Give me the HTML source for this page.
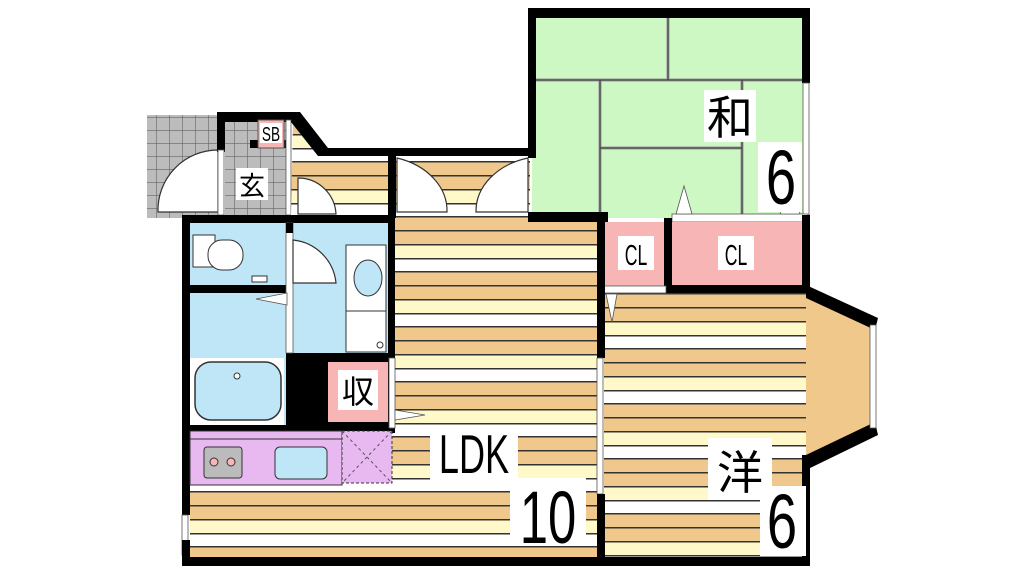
<!DOCTYPE html>
<html><head><meta charset="utf-8"><style>
html,body{margin:0;padding:0;background:#fff;width:1024px;height:576px;overflow:hidden}
text{font-family:"Liberation Sans","Noto Sans CJK JP",sans-serif}
</style></head><body>
<svg width="1024" height="576" viewBox="0 0 1024 576" xmlns="http://www.w3.org/2000/svg">
<defs>
<pattern id="wood" x="0" y="161" width="40" height="55" patternUnits="userSpaceOnUse">
<rect width="40" height="14" fill="#f0c88c"/><rect y="14" width="40" height="14" fill="#f0c88c"/>
<rect y="28" width="40" height="14" fill="#fff8c8"/><rect y="42" width="40" height="13" fill="#fff"/>
<rect y="0" width="40" height="1.5" fill="#333"/><rect y="14" width="40" height="1.5" fill="#333"/>
<rect y="28" width="40" height="1.5" fill="#333"/><rect y="42" width="40" height="1.5" fill="#333"/>
</pattern>
<pattern id="wood2" x="0" y="293" width="40" height="55" patternUnits="userSpaceOnUse">
<rect width="40" height="14" fill="#f0c88c"/><rect y="14" width="40" height="14" fill="#f0c88c"/>
<rect y="28" width="40" height="14" fill="#fff8c8"/><rect y="42" width="40" height="13" fill="#fff"/>
<rect y="0" width="40" height="1.5" fill="#333"/><rect y="14" width="40" height="1.5" fill="#333"/>
<rect y="28" width="40" height="1.5" fill="#333"/><rect y="42" width="40" height="1.5" fill="#333"/>
</pattern>
<pattern id="tile" x="0" y="0" width="13" height="13" patternUnits="userSpaceOnUse">
<rect width="13" height="13" fill="#bcbcbc"/><path d="M0 0H13M0 0V13" stroke="#666" stroke-width="1.2"/>
</pattern>
</defs>
<!-- LDK -->
<rect x="190" y="215" width="410" height="343" fill="url(#wood)"/>
<rect x="395" y="156" width="135" height="62" fill="url(#wood)"/>
<!-- tiles -->
<rect x="147" y="115" width="72" height="103" fill="url(#tile)"/>
<path d="M218 150 A60 60 0 0 0 158 212 L218 212Z" fill="#fff" stroke="#333" stroke-width="1.2"/>
<rect x="225" y="122" width="62" height="93" fill="url(#tile)"/>
<rect x="217" y="112" width="8" height="40" fill="#000"/>
<rect x="217" y="112" width="76" height="10" fill="#000"/>
<rect x="218" y="150" width="6" height="65" fill="#fff" stroke="#555" stroke-width="0.8"/>
<rect x="250" y="140" width="40" height="8" fill="#000"/>
<rect x="258" y="120" width="26" height="28" fill="#f7b5b5" stroke="#555"/>
<rect x="260" y="123" width="22" height="20" fill="#fff"/>
<text transform="translate(271,141) scale(0.8,1.2)" font-size="17" text-anchor="middle">SB</text>
<rect x="236" y="168" width="32" height="32" fill="#fff"/>
<text x="252" y="195" font-size="26" text-anchor="middle">玄</text>
<rect x="286" y="120" width="5" height="95" fill="#fff" stroke="#555" stroke-width="0.8"/>
<!-- corridor wood -->
<polygon points="293,122 320,156 390,156 390,215 291,215" fill="url(#wood)"/>
<polygon points="293,112 300,112 328,148 535,148 535,156 318,156 291,122" fill="#000"/>
<path d="M298 178 A38 38 0 0 1 336 214 L298 214Z" fill="#fff" stroke="#333" stroke-width="1.2"/>
<!-- double door -->
<path d="M397 158 A70 55 0 0 1 447 212 L397 212Z" fill="#fff" stroke="#333" stroke-width="1.2"/>
<path d="M528 158 A70 55 0 0 0 476 212 L528 212Z" fill="#fff" stroke="#333" stroke-width="1.2"/>
<rect x="388" y="150" width="8" height="68" fill="#000"/>
<!-- 和 -->
<rect x="532" y="14" width="274" height="204" fill="#cdf7c3"/>
<g stroke="#999" stroke-width="3" fill="none">
<path d="M535 80H802M668 15V80M600 80V214M600 148H742M742 80V214"/>
</g>
<g stroke="#333" stroke-width="1" fill="none">
<path d="M535 80H802M668 15V80M600 80V214M600 148H742M742 80V214"/>
</g>
<rect x="528" y="8" width="282" height="10" fill="#000"/>
<rect x="528" y="8" width="8" height="150" fill="#000"/>
<rect x="802" y="8" width="8" height="75" fill="#000"/>
<rect x="803" y="83" width="6" height="133" fill="#fff" stroke="#555" stroke-width="0.8"/>
<rect x="528" y="212" width="80" height="10" fill="#000"/>
<rect x="672" y="214" width="136" height="8" fill="#fff" stroke="#555" stroke-width="0.8"/>
<polygon points="676,214 684,186 692,214" fill="#fff" stroke="#555" stroke-width="0.8"/>
<polygon points="780,214 792,186 800,214" fill="#fff" stroke="#555" stroke-width="0.8"/>
<rect x="704" y="90" width="52" height="52" fill="#fff"/>
<text x="730" y="134" font-size="46" text-anchor="middle">和</text>
<rect x="758" y="142" width="44" height="70" fill="#fff"/>
<text transform="translate(781,204) scale(0.85,1.2)" font-size="64" text-anchor="middle">6</text>
<!-- CL -->
<rect x="604" y="222" width="62" height="64" fill="#f7b5b5"/>
<rect x="672" y="222" width="130" height="63" fill="#f7b5b5"/>
<rect x="664" y="218" width="8" height="75" fill="#000"/>
<rect x="664" y="285" width="146" height="8" fill="#000"/>
<rect x="802" y="215" width="8" height="78" fill="#000"/>
<rect x="618" y="236" width="36" height="34" fill="#fff"/><text transform="translate(636,265) scale(0.8,1.3)" font-size="22" text-anchor="middle">CL</text>
<rect x="718" y="236" width="36" height="34" fill="#fff"/><text transform="translate(736,265) scale(0.8,1.3)" font-size="22" text-anchor="middle">CL</text>
<!-- 洋 -->
<rect x="604" y="293" width="202" height="265" fill="url(#wood2)"/>
<rect x="604" y="286" width="62" height="7" fill="#fff" stroke="#555" stroke-width="0.8"/>
<polygon points="606,294 612,322 617,294" fill="#fff" stroke="#555" stroke-width="0.8"/>
<polygon points="806,293 873,325 873,428 806,460" fill="#f0c88c"/>
<polygon points="806,285 878,318 875,330 806,298" fill="#000"/>
<polygon points="806,455 875,422 878,435 806,470" fill="#000"/>
<rect x="870" y="325" width="6" height="103" fill="#fff" stroke="#555" stroke-width="0.8"/>
<rect x="802" y="455" width="8" height="110" fill="#000"/>
<rect x="708" y="438" width="64" height="62" fill="#fff"/>
<text x="740" y="489" font-size="46" text-anchor="middle">洋</text>
<rect x="760" y="486" width="46" height="70" fill="#fff"/>
<text transform="translate(782,548) scale(0.85,1.2)" font-size="64" text-anchor="middle">6</text>
<!-- divider -->
<rect x="597" y="218" width="8" height="140" fill="#000"/>
<rect x="597" y="358" width="6" height="136" fill="#fff" stroke="#555" stroke-width="0.8"/>
<rect x="597" y="494" width="8" height="72" fill="#000"/>
<!-- wet block -->
<rect x="182" y="215" width="213" height="218" fill="#000"/>
<rect x="190" y="223" width="96" height="62" fill="#bfe6f7"/>
<rect x="293" y="223" width="95" height="130" fill="#bfe6f7"/>
<rect x="190" y="293" width="96" height="132" fill="#bfe6f7"/>
<rect x="190" y="358" width="94" height="67" fill="#fff"/>
<rect x="195" y="362" width="86" height="58" rx="16" fill="#bfe6f7" stroke="#333" stroke-width="1.5"/>
<circle cx="237" cy="376" r="3" fill="#fff" stroke="#333"/>
<rect x="286" y="223" width="7" height="130" fill="#fff" stroke="#555" stroke-width="0.8"/>
<rect x="286" y="223" width="7" height="10" fill="#000"/>
<path d="M293 240 A48 48 0 0 1 336 283 L293 283Z" fill="#fff" stroke="#333" stroke-width="1.2"/>
<rect x="193" y="235" width="22" height="32" fill="#fff" stroke="#333"/>
<rect x="208" y="240" width="35" height="30" rx="14" fill="#fff" stroke="#333"/>
<rect x="252" y="276" width="15" height="6" fill="#fff" stroke="#333"/>
<polygon points="287,293 256,299 287,305" fill="#fff" stroke="#555" stroke-width="0.8"/>
<rect x="346" y="245" width="40" height="66" fill="#fff" stroke="#333"/>
<ellipse cx="368" cy="278" rx="14" ry="18" fill="#bfe6f7" stroke="#333"/>
<rect x="346" y="311" width="40" height="41" fill="#fff" stroke="#333"/>
<circle cx="380" cy="345" r="3" fill="#fff" stroke="#333"/>
<rect x="328" y="362" width="60" height="60" fill="#f7b5b5"/>
<rect x="338" y="370" width="40" height="40" fill="#fff"/>
<text x="358" y="403" font-size="32" text-anchor="middle">収</text>
<rect x="389" y="358" width="6" height="70" fill="#fff" stroke="#555" stroke-width="0.8"/>
<polygon points="395,410 425,415 395,420" fill="#fff" stroke="#555" stroke-width="0.8"/>
<!-- kitchen -->
<rect x="182" y="425" width="8" height="90" fill="#000"/>
<rect x="190" y="431" width="152" height="54" fill="#e8b8f0" stroke="#333" stroke-width="1"/>
<line x1="190" y1="439" x2="342" y2="439" stroke="#333"/>
<rect x="342" y="431" width="50" height="52" fill="#e8b8f0" stroke="#333" stroke-dasharray="3,2"/>
<path d="M342 431L392 483M392 431L342 483" stroke="#555" stroke-dasharray="3,3"/>
<rect x="204" y="447" width="38" height="31" rx="3" fill="#bbb" stroke="#333"/>
<circle cx="214" cy="462" r="4" fill="#f7b5b5" stroke="#333"/><circle cx="231" cy="462" r="4" fill="#f7b5b5" stroke="#333"/>
<rect x="275" y="447" width="52" height="32" rx="5" fill="#bfe6f7" stroke="#333"/>
<rect x="182" y="515" width="6" height="40" fill="#fff" stroke="#555" stroke-width="0.8"/>
<rect x="182" y="540" width="8" height="26" fill="#000"/>
<rect x="182" y="557" width="628" height="9" fill="#000"/>
<rect x="430" y="426" width="88" height="54" fill="#fff"/>
<text transform="translate(474,473) scale(0.82,1.25)" font-size="44" text-anchor="middle">LDK</text>
<rect x="510" y="478" width="76" height="68" fill="#fff"/>
<text transform="translate(548,543) scale(0.82,1.2)" font-size="62" text-anchor="middle">10</text>
</svg>
</body></html>
